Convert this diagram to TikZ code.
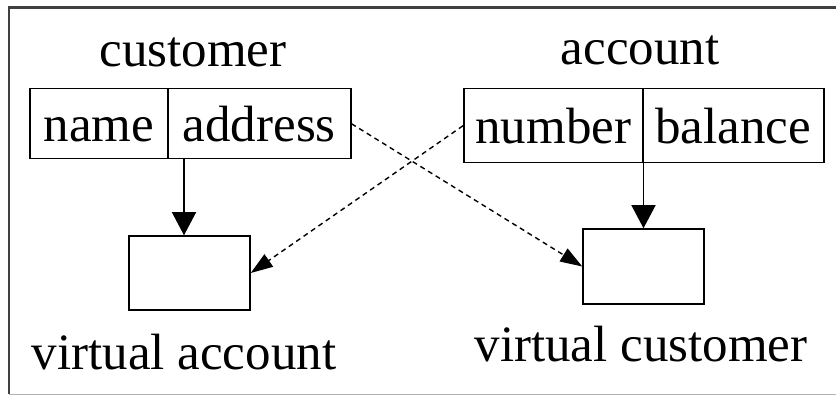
\documentclass[tikz,border=0pt]{standalone}
\usepackage{fontspec}
\setmainfont{Liberation Serif}
\usetikzlibrary{arrows.meta}
\begin{document}
\begin{tikzpicture}[x=1pt,y=-1pt,
  every node/.style={font=\fontsize{51}{60}\selectfont, inner sep=0pt, text=black},
  title/.style={anchor=base},
  cell/.style={draw=black, line width=1.5pt, anchor=north west, minimum height=70pt,
               text height=35pt, text depth=0pt},
  vbox/.style={draw=black, line width=1.5pt, minimum width=121pt, minimum height=74pt},
  solidarrow/.style={line width=1.3pt, -{Triangle[length=23pt,width=24pt]}},
  dasharrow/.style={line width=1.4pt, dash pattern=on 5pt off 4pt,
                    -{Triangle[length=22pt,width=15pt]}}]
  \useasboundingbox (0,0) rectangle (836,395);
  % outer frame (top, left, bottom)
  \draw[line width=2.2pt, black!75] (836,7.5) -- (9,7.5) -- (9,394);
  \draw[line width=0.8pt, black!30] (9,394.2) -- (836,394.2);

  % customer record
  \node[title] (tcust) at (193,67) {customer};
  \node[cell, minimum width=138pt] (cname) at (29,88) {name};
  \node[cell, minimum width=183pt] (caddr) at (167,88) {address};

  % account record
  \node[title] (tacct) at (640,65) {account};
  \node[cell, minimum width=179pt, minimum height=74pt] (cnum) at (463,88) {number};
  \node[cell, minimum width=181pt, minimum height=74pt] (cbal) at (642,88) {balance};

  % virtual objects
  \node[vbox] (vacct) at (189.5,273) {};
  \node[vbox, minimum height=75pt] (vcust) at (643.5,266.5) {};
  \node[title] (tvacct) at (184,370) {virtual account};
  \node[title] (tvcust) at (641,362) {virtual customer};

  % connectors
  \coordinate (acol) at (184,0);
  \draw[solidarrow] (acol |- caddr.south) -- (acol |- vacct.north);
  \draw[solidarrow] (vcust.north |- cbal.south) -- (vcust.north);
  \draw[dasharrow] (caddr.east) -- (vcust.west);
  \draw[dasharrow] (cnum.west) -- (vacct.east);
\end{tikzpicture}
\end{document}
